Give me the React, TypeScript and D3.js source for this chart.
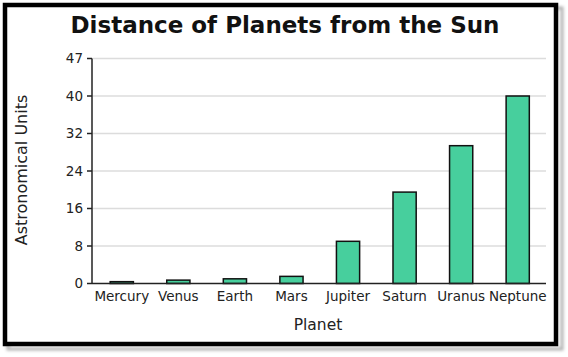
import React from "react";
import * as d3 from "d3";

const planets = ["Mercury", "Venus", "Earth", "Mars", "Jupiter", "Saturn", "Uranus", "Neptune"];
const distances = [0.39, 0.72, 1.0, 1.52, 9.0, 19.5, 29.4, 40.0];
const yTickValues = [0, 8, 16, 24, 32, 40, 48];
const yTickLabels = ["0", "8", "16", "24", "32", "40", "47"];

const W = 568;
const H = 357;
const FONT = "'DejaVu Sans', Verdana, sans-serif";

export default function App() {
  const x0 = 93.5, x1 = 546, yTop = 58.5, yBot = 283.5;
  const x = d3.scaleBand<string>().domain(planets).range([x0, x1]).paddingInner(0.59).paddingOuter(0.295);
  const y = d3.scaleLinear().domain([0, 48]).range([yBot, yTop]);

  return (
    <svg width={W} height={H} style={{ position: "absolute", left: 0, top: 0, background: "#fff" }}>
      <defs>
        <filter id="sh" x="-5%" y="-5%" width="115%" height="115%">
          <feGaussianBlur stdDeviation="1.5" />
        </filter>
      </defs>
      <rect x={8} y={8} width={554} height={341} fill="none" stroke="#b0b0b0" strokeWidth={3} filter="url(#sh)" />
      <rect x={5} y={5} width={551} height={339} fill="#fff" stroke="#000" strokeWidth={4.5} />

      <text x={285} y={33} textAnchor="middle" fontFamily={FONT} fontWeight="bold" fontSize={23} fill="#111">
        Distance of Planets from the Sun
      </text>

      {yTickValues.filter(v => v > 0).map(v => (
        <line key={"g" + v} x1={x0 - 1} x2={x1} y1={y(v)} y2={y(v)} stroke="#dcdcdc" strokeWidth={1.5} />
      ))}

      {planets.map((p, i) => (
        <rect key={p} x={x(p)} y={y(distances[i])} width={x.bandwidth()} height={yBot - y(distances[i])}
          fill="#47cf9d" stroke="#111" strokeWidth={1.5} />
      ))}

      <line x1={92} x2={92} y1={yTop} y2={yBot} stroke="#222" strokeWidth={1.5} />
      <line x1={92} x2={x1} y1={yBot} y2={yBot} stroke="#222" strokeWidth={1.5} />
      {yTickValues.map((v, i) => (
        <g key={"t" + v}>
          <line x1={87} x2={92} y1={y(v)} y2={y(v)} stroke="#222" strokeWidth={1.5} />
          <text x={83} y={y(v)} dy="0.35em" textAnchor="end" fontFamily={FONT} fontSize={13.5} fill="#222">
            {yTickLabels[i]}
          </text>
        </g>
      ))}
      {planets.map(p => (
        <text key={"l" + p} x={(x(p) as number) + x.bandwidth() / 2} y={301} textAnchor="middle"
          fontFamily={FONT} fontSize={13.5} fill="#222">
          {p}
        </text>
      ))}

      <text x={318} y={330} textAnchor="middle" fontFamily={FONT} fontSize={15.5} fill="#222">Planet</text>
      <text transform="translate(27,170) rotate(-90)" textAnchor="middle" fontFamily={FONT} fontSize={16} fill="#222">
        Astronomical Units
      </text>
    </svg>
  );
}
